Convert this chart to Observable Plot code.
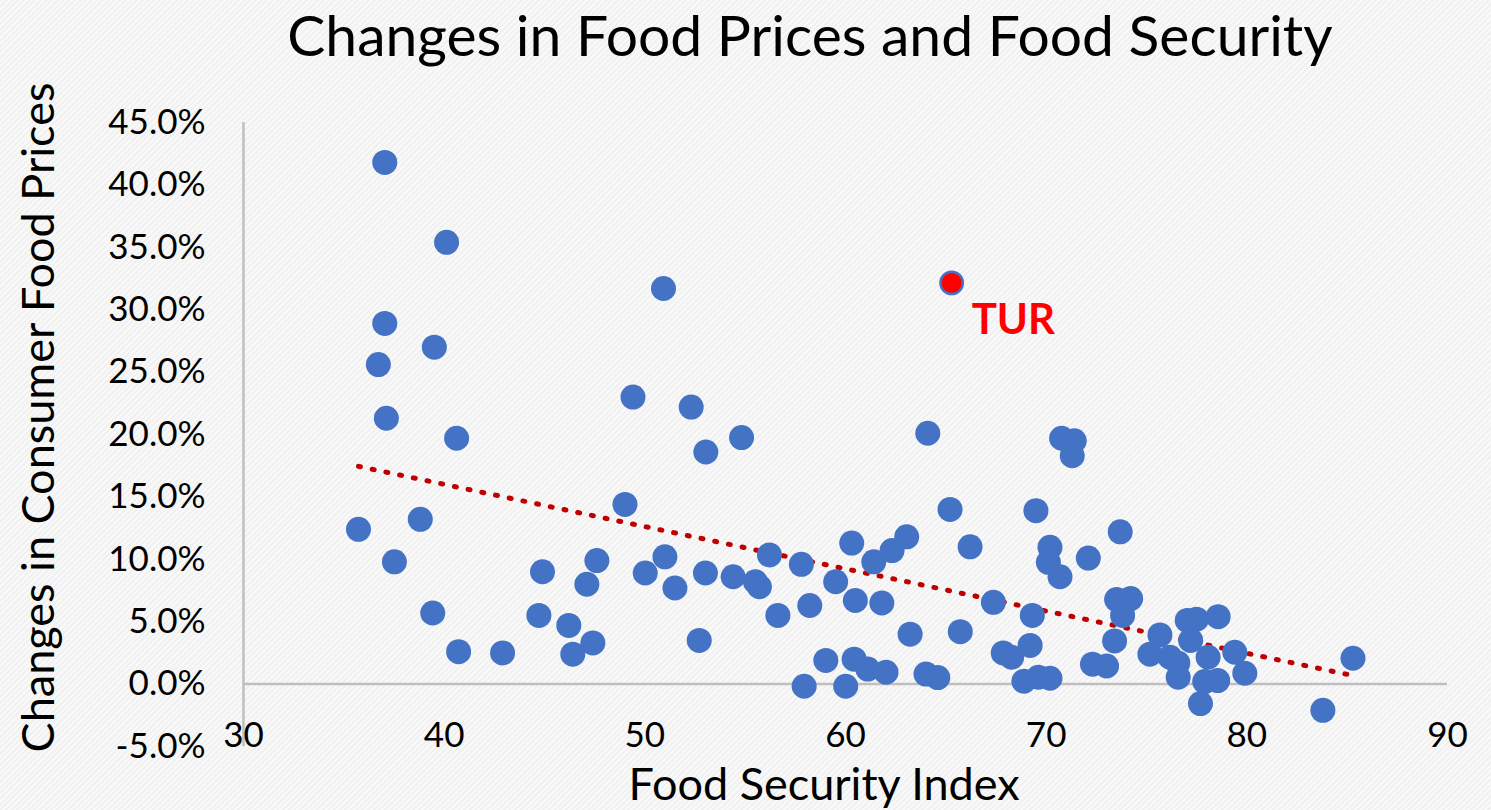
<!DOCTYPE html>
<html><head><meta charset="utf-8">
<script src="https://cdn.jsdelivr.net/npm/d3@7"></script>
<script src="https://cdn.jsdelivr.net/npm/@observablehq/plot@0.6"></script>
<style>
html,body{margin:0;padding:0;}
body{width:1491px;height:810px;overflow:hidden;background:repeating-linear-gradient(135deg,#f1f1f1 0px,#f1f1f1 2px,#f9f9f9 2px,#f9f9f9 4px);font-family:Lato,sans-serif;}
#title{height:80px;width:1491px;padding-left:129px;text-align:center;font-size:57px;line-height:69px;padding-top:0;box-sizing:border-box;color:#000;white-space:nowrap;}
#chart svg{display:block;}
</style></head><body>
<div id="title">Changes in Food Prices and Food Security</div>
<div id="chart"></div>
<script>
const foodSecurityIndex = [37.04,40.12,50.93,37.04,39.51,36.72,37.12,40.62,49.41,52.31,53.04,35.73,38.81,37.52,39.43,40.72,42.91,44.90,44.72,46.21,46.41,47.41,47.11,47.61,49.01,50.02,51.00,51.50,53.02,52.71,54.82,54.40,55.51,55.71,56.21,57.80,56.63,58.22,59.51,60.31,60.49,61.81,61.41,62.32,63.05,66.21,63.22,65.72,59.02,60.43,61.11,62.02,57.94,60.01,64.01,64.60,64.10,65.21,69.49,70.77,71.40,71.30,70.19,70.11,70.69,72.10,67.37,69.31,73.69,67.86,68.28,69.20,68.89,69.61,70.19,72.31,73.01,73.51,74.21,73.81,73.41,75.67,75.17,76.17,76.56,76.58,77.03,77.49,77.20,78.57,78.07,77.90,78.55,77.69,79.40,79.90,85.29,83.79];
const foodPriceChange = [41.8,35.4,31.7,28.9,27.0,25.6,21.3,19.7,23.0,22.2,18.6,12.4,13.2,9.8,5.7,2.6,2.5,9.0,5.5,4.7,2.4,3.3,8.0,9.9,14.4,8.9,10.2,7.7,8.9,3.5,19.75,8.6,8.2,7.8,10.35,9.6,5.5,6.3,8.2,11.3,6.7,6.5,9.8,10.7,11.8,11.0,4.0,4.2,1.9,2.0,1.2,0.95,-0.17,-0.17,0.8,0.52,20.1,14.0,13.9,19.7,19.5,18.3,10.96,9.76,8.6,10.1,6.55,5.5,12.2,2.5,2.15,3.1,0.23,0.55,0.47,1.6,1.45,6.77,6.85,5.5,3.46,3.94,2.4,2.15,1.7,0.55,5.1,5.2,3.5,5.4,2.15,0.2,0.28,-1.56,2.55,0.87,2.07,-2.1];
const highlightLabel = ["TUR"];
const highlightX = [65.29];
const highlightY = [32.15];
const trendX = [35.73, 85.29];
const trendY = [17.45, 0.68];
const xTicks = [30, 40, 50, 60, 70, 80, 90];
const yTicks = [-5, 0, 5, 10, 15, 20, 25, 30, 35, 40, 45];
const chartTitle = "Changes in Food Prices and Food Security";
const xTitle = "Food Security Index";
const yTitle = "Changes in Consumer Food Prices";

document.getElementById("title").textContent = chartTitle;
const points = foodSecurityIndex.map((x, i) => ({x, y: foodPriceChange[i]}));
const highlight = highlightLabel.map((t, i) => ({t, x: highlightX[i], y: highlightY[i]}));
const trend = trendX.map((x, i) => ({x, y: trendY[i]}));

const plot = Plot.plot({
  width: 1491, height: 730,
  marginTop: 42, marginBottom: 64, marginLeft: 243, marginRight: 44,
  style: {background: "transparent", fontFamily: "Lato, sans-serif", color: "#000"},
  x: {domain: [30, 90]},
  y: {domain: [-5, 45]},
  marks: [
    Plot.ruleX([30], {stroke: "#bfbfbf", strokeWidth: 2.5}),
    Plot.ruleY([0], {stroke: "#bfbfbf", strokeWidth: 2.5}),
    Plot.axisY(yTicks, {tickSize: 0, tickPadding: 38, fontSize: 35, tickFormat: d => d.toFixed(1) + "%", label: null}),
    Plot.axisX(xTicks, {tickSize: 0, tickPadding: 0, dy: -24, fontSize: 35, label: null}),
    Plot.line(trend, {x: "x", y: "y", stroke: "#C00000", strokeWidth: 5, strokeDasharray: "2 12", strokeLinecap: "round"}),
    Plot.dot(points, {x: "x", y: "y", r: 12.5, fill: "#4472C4"}),
    Plot.dot(highlight, {x: "x", y: "y", r: 11.2, fill: "#FF0000", stroke: "#4472C4", strokeWidth: 2.5}),
    Plot.text(highlight, {x: "x", y: "y", text: "t", dx: 20, dy: 51, textAnchor: "start", lineAnchor: "bottom", fill: "#FF0000", fontWeight: "bold", fontSize: 42}),
    Plot.text([xTitle], {text: d => d, frameAnchor: "bottom", textAnchor: "middle", lineAnchor: "bottom", dy: 53, dx: -21.5, fontSize: 45}),
    Plot.text([yTitle], {text: d => d, frameAnchor: "left", textAnchor: "middle", rotate: -90, lineAnchor: "bottom", dx: -190, dy: -17, fontSize: 45})
  ]
});
document.getElementById("chart").appendChild(plot);
</script>
</body></html>
